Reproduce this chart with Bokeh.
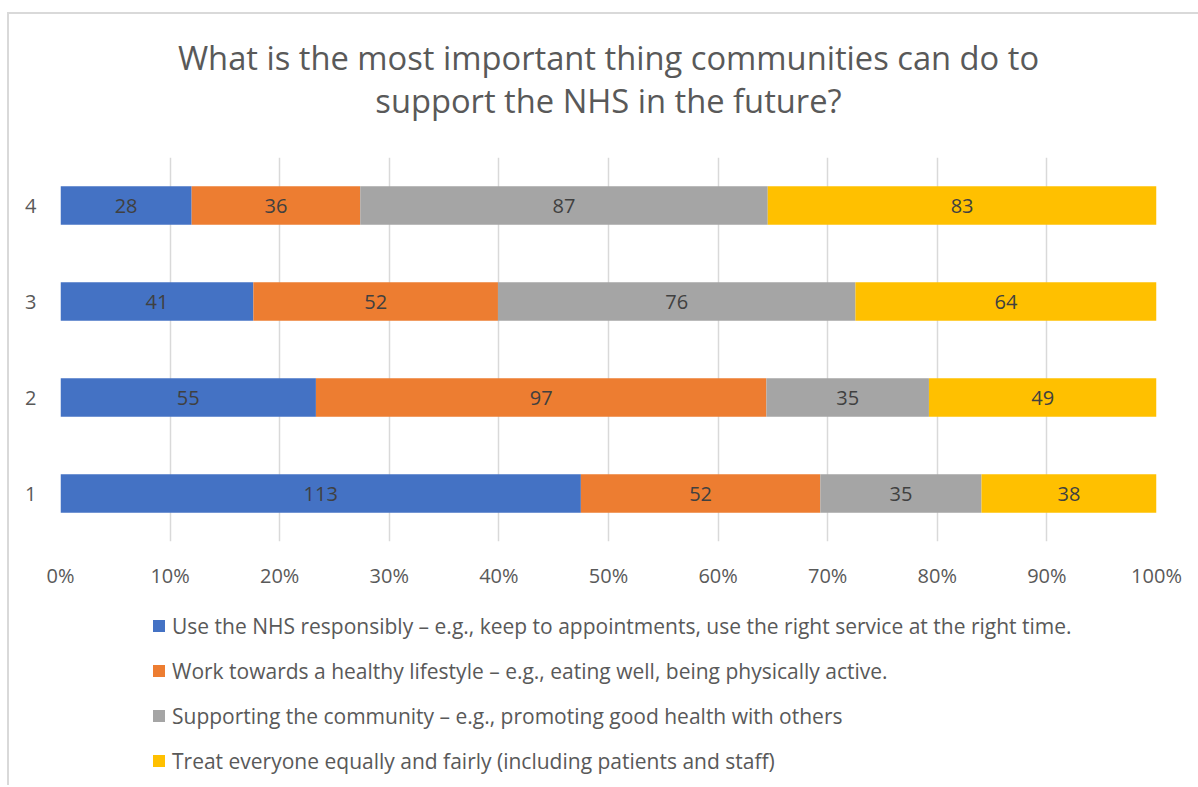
from bokeh.plotting import figure
from bokeh.layouts import column
from bokeh.models import (ColumnDataSource, FactorRange, Range1d, NumeralTickFormatter, FixedTicker,
                          Legend, LegendItem, LabelSet)
from bokeh.core.properties import value
from bokeh.embed import file_html
from bokeh.resources import INLINE

categories = ["1", "2", "3", "4"]
series_names = [
    "Use the NHS responsibly \u2013 e.g., keep to appointments, use the right service at the right time.",
    "Work towards a healthy lifestyle \u2013 e.g., eating well, being physically active.",
    "Supporting the community \u2013 e.g., promoting good health with others",
    "Treat everyone equally and fairly (including patients and staff)",
]
use_nhs = [113, 55, 41, 28]
healthy = [52, 97, 52, 36]
community = [35, 35, 76, 87]
treat_equal = [38, 49, 64, 83]
tick_values = [0, 0.1, 0.2, 0.3, 0.4, 0.5, 0.6, 0.7, 0.8, 0.9, 1.0]
title_lines = ["What is the most important thing communities can do to",
               "support the NHS in the future?"]

colors = ["#4472C4", "#ED7D31", "#A5A5A5", "#FFC000"]
FONT = "Open Sans"
TXT = "#595959"

series = [use_nhs, healthy, community, treat_equal]
totals = [sum(v) for v in zip(*series)]
keys = ["s0", "s1", "s2", "s3"]
data = {"cat": categories}
for k, s in zip(keys, series):
    data[k] = [v / t for v, t in zip(s, totals)]
source = ColumnDataSource(data)

W = 1189
TITLE_H = 143

def bare(height, y_range):
    f = figure(width=W, height=height, x_range=Range1d(0, 1), y_range=y_range, title=None,
               output_backend="svg", toolbar_location=None, x_axis_location=None, y_axis_location=None,
               min_border_left=0, min_border_right=0, min_border_top=0, min_border_bottom=0)
    f.outline_line_color = None
    f.grid.grid_line_color = None
    f.border_fill_color = "white"
    return f

# title strip (frame aligned with the main plot frame; y in pixel-like units)
t0 = bare(TITLE_H, Range1d(0, TITLE_H))
t0.text(x=[0.5, 0.5], y=[TITLE_H - 43, TITLE_H - 86], text=title_lines, text_align="center",
        text_baseline="middle", text_font=value(FONT), text_font_size="32.7px", text_color=TXT)

# main chart
p = figure(width=W, height=443, y_range=FactorRange(factors=categories, range_padding=0),
           x_range=Range1d(0, 1), output_backend="svg", toolbar_location=None, title=None,
           min_border_left=51, min_border_right=42, min_border_top=0, min_border_bottom=59)
p.outline_line_color = None
p.background_fill_color = "white"
p.border_fill_color = "white"

p.hbar_stack(keys, y="cat", height=0.4, color=colors, source=source, line_width=0)

left = [0.0] * 4
for k, s in zip(keys, series):
    fr = data[k]
    mids = [l + f / 2 for l, f in zip(left, fr)]
    lsrc = ColumnDataSource(dict(x=mids, y=categories, t=[str(v) for v in s]))
    p.add_layout(LabelSet(x="x", y="y", text="t", source=lsrc, text_align="center", text_baseline="middle",
                          text_font=value(FONT), text_font_size="20px", text_color="#404040"))
    left = [l + f for l, f in zip(left, fr)]

p.xaxis.ticker = FixedTicker(ticks=tick_values)
p.xaxis.formatter = NumeralTickFormatter(format="0%")
for ax in (p.xaxis, p.yaxis):
    ax.axis_line_color = None
    ax.major_tick_line_color = None
    ax.minor_tick_line_color = None
    ax.major_tick_out = 0
    ax.major_tick_in = 0
    ax.minor_tick_out = 0
    ax.major_label_text_font = FONT
    ax.major_label_text_font_size = "20px"
    ax.major_label_text_color = TXT
p.xaxis.major_label_standoff = 20
p.yaxis.major_label_standoff = 24
p.ygrid.grid_line_color = None
p.xgrid.grid_line_color = "#D9D9D9"
p.xgrid.grid_line_width = 1.5

# legend strip (zero-size bars only supply the legend swatches)
p2 = bare(185, Range1d(0, 1))
leg_renderers = [p2.hbar(y=[0.5], left=[0.5], right=[0.5], height=0, color=c, line_width=0) for c in colors]
items = [LegendItem(label=n, renderers=[r]) for n, r in zip(series_names, leg_renderers)]
legend = Legend(items=items, location=(91, 10), orientation="vertical",
                label_text_font=FONT, label_text_font_size="21px", label_text_color=TXT,
                glyph_width=15, glyph_height=15, label_height=29, spacing=16, padding=0, margin=0,
                label_standoff=6, border_line_color=None, background_fill_alpha=0)
p2.add_layout(legend, "center")

layout = column(t0, p, p2, spacing=0)
layout.styles = {"margin-left": "7px", "margin-top": "12px",
                 "border-left": "2px solid #D9D9D9", "border-top": "2px solid #D9D9D9"}

open("out.html", "w").write(file_html(layout, INLINE))
